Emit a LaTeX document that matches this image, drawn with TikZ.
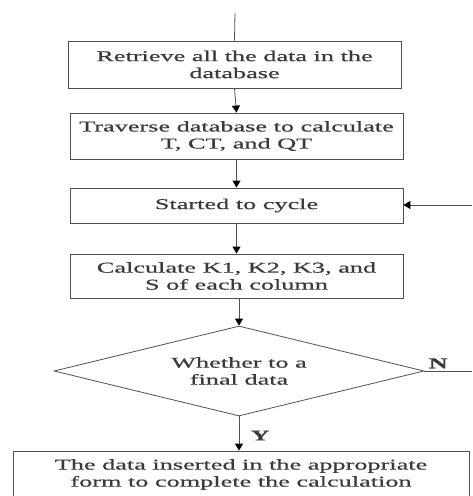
\documentclass[tikz,border=0pt]{standalone}
\usepackage{fontspec}
\setmainfont{Liberation Serif}[FakeStretch=1.75, FakeBold=0.6]
\usetikzlibrary{shapes.geometric,arrows.meta}
\definecolor{txtgray}{HTML}{3A3A3A}
\definecolor{linegray}{HTML}{505050}
\begin{document}
\begin{tikzpicture}[x=1pt, y=1pt, every node/.style={draw=linegray, thick, text=txtgray, align=center, font=\fontsize{15}{17}\selectfont}]
\clip (0,0) rectangle (472,-496);
\tikzset{stepbox/.style={rectangle, minimum width=333pt, inner sep=0pt}}
\node[stepbox, minimum height=47pt] (retrieve) at (234.5, -64.5) {Retrieve all the data in the\\database};
\node[stepbox, minimum height=46pt] (traverse) at (236.5, -136) {Traverse database to calculate\\T, CT, and QT};
\node[stepbox, minimum height=35pt] (cycle) at (236.5, -205.5) {Started to cycle};
\node[stepbox, minimum height=44pt] (calc) at (236.5, -276) {Calculate K1, K2, K3, and\\S of each column};
\node[diamond, aspect=4.1, minimum width=370pt, minimum height=90pt, inner sep=0pt] (final) at (239, -371) {Whether to a\\final data};
\node[rectangle, minimum width=456pt, minimum height=47pt, inner sep=0pt] (insert) at (241, -474.5) {The data inserted in the appropriate\\form to complete the calculation};

\coordinate (start) at (235, -13);
\coordinate (outN) at (472, -371);
\coordinate (backin) at (472, -205);

\tikzset{every node/.style={}}; 
\tikzset{mystyle/.style={-{Triangle[length=7pt,width=8pt,fill=black,color=black]}, thick, draw=linegray}};  
\draw[thick, draw=linegray] (start) -- (retrieve.north);
\draw[mystyle] (retrieve.south) -- (traverse.north);
\draw[mystyle] (traverse.south) -- (cycle.north);
\draw[mystyle] (cycle.south) -- (calc.north);
\draw[mystyle] (calc.south -| final.north) -- (final.north);
\draw[mystyle] (final.south) -- node [right, xshift=8pt, yshift=-2pt, text=txtgray, font=\fontsize{15}{17}\selectfont\bfseries] {Y} (final.south |- insert.north);
\draw[thick, draw=linegray] (final.east) -- node [above, xshift=-10pt, yshift=-1pt, text=txtgray, font=\fontsize{15}{17}\selectfont\bfseries] {N} (outN);
\draw[mystyle] (backin) -- (cycle.east |- backin);

\end{tikzpicture}
\end{document}
